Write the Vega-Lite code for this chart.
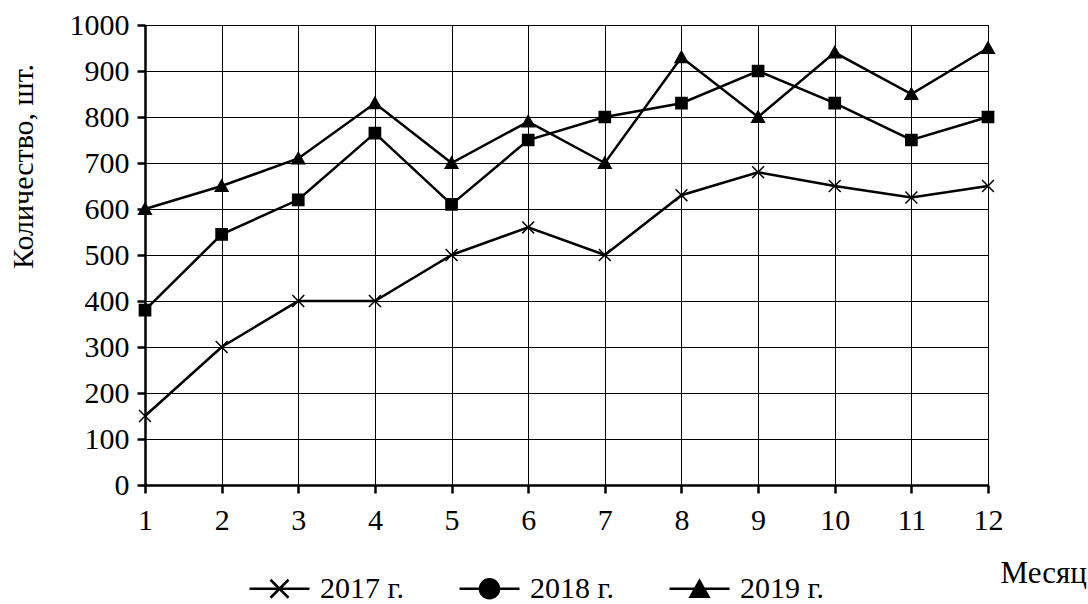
{
  "$schema": "https://vega.github.io/schema/vega-lite/v6.json",
  "width": 843,
  "height": 460,
  "autosize": {"type": "none"},
  "padding": {"left": 145, "top": 25, "right": 100, "bottom": 119},
  "background": "white",
  "config": {
    "font": "Liberation Serif",
    "view": {"stroke": "black", "strokeWidth": 1},
    "axis": {"labelFont": "Liberation Serif", "titleFont": "Liberation Serif"},
    "legend": {"labelFont": "Liberation Serif"}
  },
  "data": {
    "values": [
      {"month": 1, "year": "2017 г.", "value": 150},
      {"month": 2, "year": "2017 г.", "value": 300},
      {"month": 3, "year": "2017 г.", "value": 400},
      {"month": 4, "year": "2017 г.", "value": 400},
      {"month": 5, "year": "2017 г.", "value": 500},
      {"month": 6, "year": "2017 г.", "value": 560},
      {"month": 7, "year": "2017 г.", "value": 500},
      {"month": 8, "year": "2017 г.", "value": 630},
      {"month": 9, "year": "2017 г.", "value": 680},
      {"month": 10, "year": "2017 г.", "value": 650},
      {"month": 11, "year": "2017 г.", "value": 625},
      {"month": 12, "year": "2017 г.", "value": 650},
      {"month": 1, "year": "2018 г.", "value": 380},
      {"month": 2, "year": "2018 г.", "value": 545},
      {"month": 3, "year": "2018 г.", "value": 620},
      {"month": 4, "year": "2018 г.", "value": 765},
      {"month": 5, "year": "2018 г.", "value": 610},
      {"month": 6, "year": "2018 г.", "value": 750},
      {"month": 7, "year": "2018 г.", "value": 800},
      {"month": 8, "year": "2018 г.", "value": 830},
      {"month": 9, "year": "2018 г.", "value": 900},
      {"month": 10, "year": "2018 г.", "value": 830},
      {"month": 11, "year": "2018 г.", "value": 750},
      {"month": 12, "year": "2018 г.", "value": 800},
      {"month": 1, "year": "2019 г.", "value": 600},
      {"month": 2, "year": "2019 г.", "value": 650},
      {"month": 3, "year": "2019 г.", "value": 710},
      {"month": 4, "year": "2019 г.", "value": 830},
      {"month": 5, "year": "2019 г.", "value": 700},
      {"month": 6, "year": "2019 г.", "value": 790},
      {"month": 7, "year": "2019 г.", "value": 700},
      {"month": 8, "year": "2019 г.", "value": 930},
      {"month": 9, "year": "2019 г.", "value": 800},
      {"month": 10, "year": "2019 г.", "value": 940},
      {"month": 11, "year": "2019 г.", "value": 850},
      {"month": 12, "year": "2019 г.", "value": 950}
    ]
  },
  "encoding": {
    "x": {
      "field": "month",
      "type": "quantitative",
      "scale": {"domain": [1, 12], "nice": false, "zero": false},
      "axis": {
        "values": [1, 2, 3, 4, 5, 6, 7, 8, 9, 10, 11, 12],
        "format": "d",
        "title": "Месяц",
        "grid": true,
        "gridColor": "black",
        "gridOpacity": 1,
        "gridWidth": 1,
        "domainColor": "black",
        "domainWidth": 2.5,
        "tickColor": "black",
        "tickWidth": 2.5,
        "tickSize": 8,
        "labelFont": "Liberation Serif",
        "labelFontSize": 30,
        "labelColor": "black",
        "labelPadding": 12,
        "labelFlush": false,
        "labelOverlap": false,
        "titleFont": "Liberation Serif",
        "titleFontSize": 31,
        "titleFontWeight": "normal",
        "titleColor": "black",
        "titleAnchor": null,
        "titleX": 855,
        "titleY": 88,
        "titleAlign": "left",
        "titleBaseline": "middle"
      }
    },
    "y": {
      "field": "value",
      "type": "quantitative",
      "scale": {"domain": [0, 1000], "nice": false},
      "axis": {
        "values": [0, 100, 200, 300, 400, 500, 600, 700, 800, 900, 1000],
        "format": "d",
        "title": "Количество, шт.",
        "grid": true,
        "gridColor": "black",
        "gridOpacity": 1,
        "gridWidth": 1,
        "domainColor": "black",
        "domainWidth": 2.5,
        "tickColor": "black",
        "tickWidth": 2.5,
        "tickSize": 8,
        "labelFont": "Liberation Serif",
        "labelFontSize": 30,
        "labelColor": "black",
        "labelPadding": 8,
        "labelFlush": false,
        "labelOverlap": false,
        "labelBound": false,
        "titleFont": "Liberation Serif",
        "titleFontSize": 30,
        "titleFontWeight": "normal",
        "titleColor": "black",
        "titleAnchor": null,
        "titleAngle": 270,
        "titleX": -122,
        "titleY": 141,
        "titleAlign": "center",
        "titleBaseline": "middle"
      }
    }
  },
  "layer": [
    {
      "mark": {"type": "line", "color": "black", "strokeWidth": 2.5},
      "encoding": {"detail": {"field": "year", "type": "nominal"}}
    },
    {
      "mark": {"type": "point", "filled": true, "color": "black", "opacity": 1, "size": 196, "strokeWidth": 1.5, "stroke": "black"},
      "encoding": {
        "shape": {
          "field": "year",
          "type": "nominal",
          "scale": {
            "domain": ["2017 г.", "2018 г.", "2019 г."],
            "range": [
              "M-0.85,-0.85L0.85,0.85M-0.85,0.85L0.85,-0.85",
              "M-0.8,-0.8H0.8V0.8H-0.8Z",
              "M0,-0.85L0.9,0.75L-0.9,0.75Z"
            ]
          },
          "legend": null
        }
      }
    },
    {
      "mark": {"type": "point", "filled": false, "color": "black", "opacity": 0, "size": 3600, "strokeWidth": 2.5},
      "encoding": {
        "shape": {
          "field": "year",
          "type": "nominal",
          "scale": {
            "domain": ["2017 г.", "2018 г.", "2019 г."],
            "range": [
              "M-1,0L1,0M-0.3,-0.3L0.3,0.3M-0.3,0.3L0.3,-0.3",
              "M-1,0L1,0M0.317,0A0.317,0.317,0,1,1,-0.317,0A0.317,0.317,0,1,1,0.317,0M0.25,0A0.25,0.25,0,1,1,-0.25,0A0.25,0.25,0,1,1,0.25,0M0.183,0A0.183,0.183,0,1,1,-0.183,0A0.183,0.183,0,1,1,0.183,0M0.117,0A0.117,0.117,0,1,1,-0.117,0A0.117,0.117,0,1,1,0.117,0M0.05,0A0.05,0.05,0,1,1,-0.05,0A0.05,0.05,0,1,1,0.05,0",
              "M-1,0L1,0M0,-0.267L0.3,0.267L-0.3,0.267ZM-0.037,-0.2L0.037,-0.2M-0.075,-0.133L0.075,-0.133M-0.113,-0.067L0.113,-0.067M-0.187,0.067L0.187,0.067M-0.225,0.133L0.225,0.133M-0.263,0.2L0.263,0.2"
            ]
          },
          "legend": {
            "title": null,
            "orient": "none",
            "legendX": 103,
            "legendY": 532,
            "direction": "horizontal",
            "symbolSize": 3600,
            "symbolStrokeWidth": 2.5,
            "symbolStrokeColor": "black",
            "symbolFillColor": "black",
            "symbolOpacity": 1,
            "labelFont": "Liberation Serif",
            "labelFontSize": 30,
            "labelColor": "black",
            "labelOffset": 9,
            "columnPadding": 50
          }
        }
      }
    }
  ],
  "resolve": {"scale": {"shape": "independent"}, "legend": {"shape": "independent"}}
}
